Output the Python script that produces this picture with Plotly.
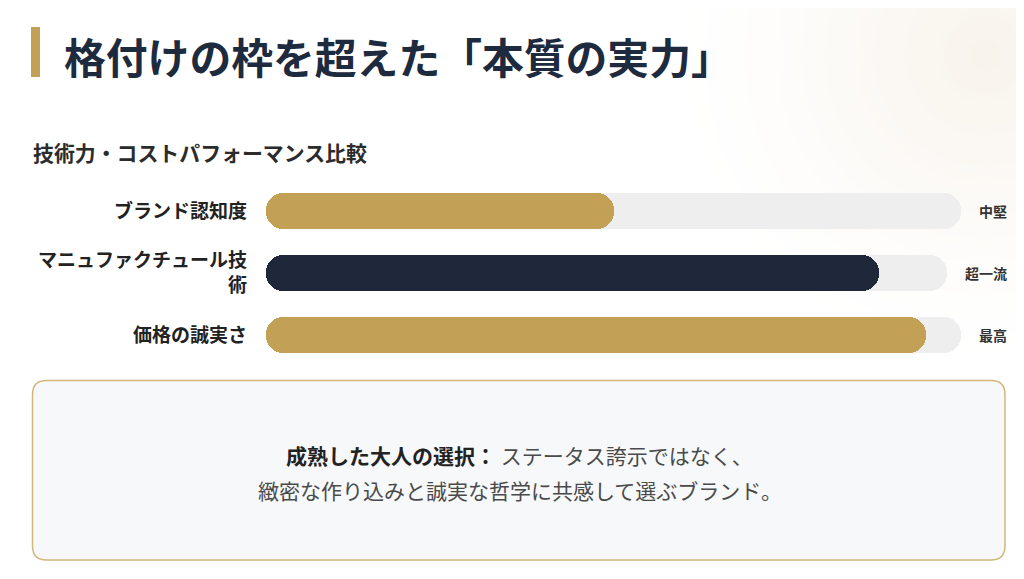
import plotly.graph_objects as go

W, H = 1024, 579
OFF = 8  # page body margin that plotly's html leaves around the figure

# data
categories = ['ブランド認知度', 'マニュファクチュール技術', '価格の誠実さ']
tick_labels = ['ブランド認知度', 'マニュファクチュール技<br>術', '価格の誠実さ']
scores = [50, 90, 95]          # % of each track
grades = ['中堅', '超一流', '最高']
colors = ['#c2a056', '#1f273b', '#c2a056']

GOLD = '#c2a056'
FONT = 'Noto Sans CJK JP'


def px_x(x):
    return (x - OFF) / W


def px_y(y):
    return 1 - (y - OFF) / H


# track ends earlier when the grade label is longer (flex layout)
PLOT_PX = 961 - 266
tracks = [100 - (len(g) - 2) * 14 / PLOT_PX * 100 for g in grades]
fills = [s / 100 * t for s, t in zip(scores, tracks)]

fig = go.Figure()


def pill(lengths, color):
    # two overlapping halves so both ends get rounded
    fig.add_trace(go.Bar(
        y=categories, x=[-0.6 * v for v in lengths], base=[0.6 * v for v in lengths],
        orientation='h', marker=dict(color=color, cornerradius=17, line=dict(width=0)),
        width=0.565, hoverinfo='skip', showlegend=False))
    fig.add_trace(go.Bar(
        y=categories, x=[0.6 * v for v in lengths], base=[0.4 * v for v in lengths],
        orientation='h', marker=dict(color=color, cornerradius=17, line=dict(width=0)),
        width=0.565, hoverinfo='skip', showlegend=False))


pill(tracks, '#eeeeee')
pill(fills, colors)

shapes = []
# soft warm glow in the top-right corner: opaque rings, white -> warm beige
glow = (248, 243, 235)
R, N = 320, 40
for i in range(1, N):
    r = R * (1 - i / N)
    t = (i / N) ** 1.4
    c = [round(255 - (255 - g) * t) for g in glow]
    if c == [255, 255, 255]:
        continue
    shapes.append(dict(type='circle', xref='paper', yref='paper', layer='below',
                       x0=px_x(985 - r), x1=px_x(985 + r), y0=px_y(55 + r), y1=px_y(55 - r),
                       fillcolor=f'rgb({c[0]},{c[1]},{c[2]})', line=dict(width=0)))

# title accent bar
shapes.append(dict(type='rect', xref='paper', yref='paper',
                   x0=px_x(31), x1=px_x(40), y0=px_y(77), y1=px_y(27),
                   fillcolor=GOLD, line=dict(width=0)))

# rounded box
bx0, bx1, by0, by1, rr = 32.5, 1005, 380.5, 560, 14
def P(x, y):
    return f'{px_x(x):.5f},{px_y(y):.5f}'
path = (f'M {P(bx0 + rr, by0)} L {P(bx1 - rr, by0)} Q {P(bx1, by0)} {P(bx1, by0 + rr)} '
        f'L {P(bx1, by1 - rr)} Q {P(bx1, by1)} {P(bx1 - rr, by1)} '
        f'L {P(bx0 + rr, by1)} Q {P(bx0, by1)} {P(bx0, by1 - rr)} '
        f'L {P(bx0, by0 + rr)} Q {P(bx0, by0)} {P(bx0 + rr, by0)} Z')
shapes.append(dict(type='path', xref='paper', yref='paper', path=path,
                   fillcolor='#f7f8fa', line=dict(color='#d2b778', width=1.5), layer='below'))

annotations = [
    dict(text='<b>格付けの枠を超えた「本質の実力」</b>', x=px_x(62), y=px_y(56),
         xanchor='left', yanchor='middle', font=dict(size=41.8, color='#1e2a3e')),
    dict(text='<b>技術力・コストパフォーマンス比較</b>', x=px_x(31), y=px_y(152),
         xanchor='left', yanchor='middle', font=dict(size=20.9, color='#2b2b2b')),
    dict(text='<b>成熟した大人の選択：</b> <span style="color:#4a4a4a">ステータス誇示ではなく、</span>',
         x=px_x(519), y=px_y(455), xanchor='center', yanchor='middle',
         font=dict(size=21, color='#222222')),
    dict(text='緻密な作り込みと誠実な哲学に共感して選ぶブランド。',
         x=px_x(520), y=px_y(490), xanchor='center', yanchor='middle',
         font=dict(size=21, color='#4a4a4a')),
]
for c, g in zip(categories, grades):
    annotations.append(dict(text=f'<b>{g}</b>', xref='paper', yref='y', x=px_x(1008.5), y=c,
                            xanchor='right', yanchor='middle', showarrow=False,
                            font=dict(size=14, color='#333333')))
for a in annotations:
    a.setdefault('xref', 'paper')
    a.setdefault('yref', 'paper')
    a['showarrow'] = False

fig.update_layout(
    width=W, height=H, margin=dict(l=0, r=0, t=0, b=0),
    paper_bgcolor='white', plot_bgcolor='rgba(0,0,0,0)',
    font=dict(family=FONT),
    barmode='overlay', bargap=0,
    xaxis=dict(domain=[px_x(266), px_x(961)], range=[0, 100], visible=False, fixedrange=True),
    yaxis=dict(domain=[px_y(366), px_y(180)], autorange='reversed', showgrid=False,
               zeroline=False, showline=False, ticks='', tickmode='array',
               tickvals=categories, ticktext=tick_labels, ticklabelstandoff=18,
               tickfont=dict(size=19, color='#222222', weight=700), fixedrange=True),
    shapes=shapes, annotations=annotations,
)

fig.write_html('out.html', config={'displayModeBar': False})
